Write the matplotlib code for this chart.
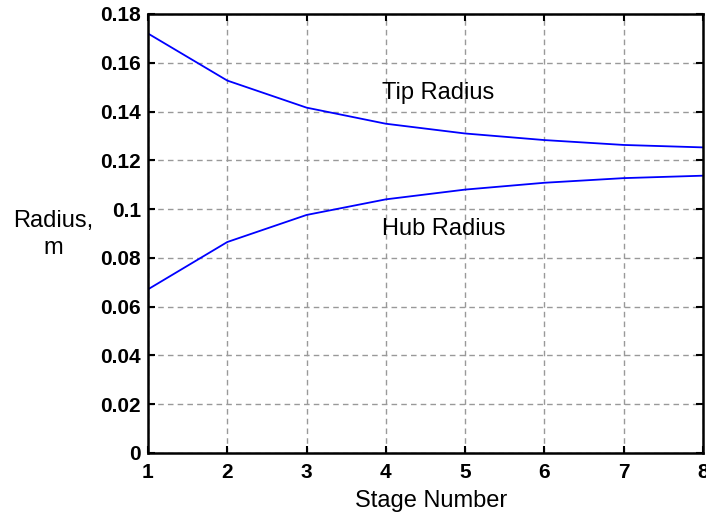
import matplotlib
matplotlib.use("Agg")
import matplotlib.pyplot as plt

plt.rcParams['font.family'] = ['Liberation Sans', 'DejaVu Sans']

# data
stages = [1, 2, 3, 4, 5, 6, 7, 8]
tip_radius = [0.172, 0.1527, 0.1416, 0.135, 0.131, 0.1283, 0.1263, 0.1253]
hub_radius = [0.0671, 0.0865, 0.0976, 0.104, 0.108, 0.1108, 0.1127, 0.1137]
yticks = [0, 0.02, 0.04, 0.06, 0.08, 0.1, 0.12, 0.14, 0.16, 0.18]
ytick_labels = ['0', '0.02', '0.04', '0.06', '0.08', '0.1', '0.12', '0.14', '0.16', '0.18']

fig = plt.figure(figsize=(7.06, 5.16), dpi=100)
ax = fig.add_axes([0.2096, 0.1221, 0.7862, 0.8508])

ax.plot(stages, tip_radius, color='#0000ff', lw=1.3)
ax.plot(stages, hub_radius, color='#0000ff', lw=1.3)

ax.set_xlim(1, 8)
ax.set_ylim(0, 0.18)
ax.set_xticks(stages)
ax.set_yticks(yticks)
ax.set_yticklabels(ytick_labels)
for lab in ax.get_xticklabels() + ax.get_yticklabels():
    lab.set_fontweight('bold')
    lab.set_fontsize(15)

ax.tick_params(direction='in', length=5, width=1.5, top=True, right=True)
ax.tick_params(axis='y', pad=5)
ax.tick_params(axis='x', pad=7)
ax.grid(True, linestyle=(0, (4, 3)), color='#999999', lw=1)
for sp in ax.spines.values():
    sp.set_linewidth(1.8)

ax.text(3.95, 0.1476, 'Tip Radius', fontsize=17, va='center')
ax.text(3.95, 0.0918, 'Hub Radius', fontsize=17, va='center')

fig.text(0.61, 0.029, 'Stage Number', fontsize=17, ha='center', va='center')
fig.text(0.075, 0.545, 'Radius,\nm', fontsize=17, ha='center', va='center', linespacing=1.3)

fig.savefig('out.png', dpi=100)
